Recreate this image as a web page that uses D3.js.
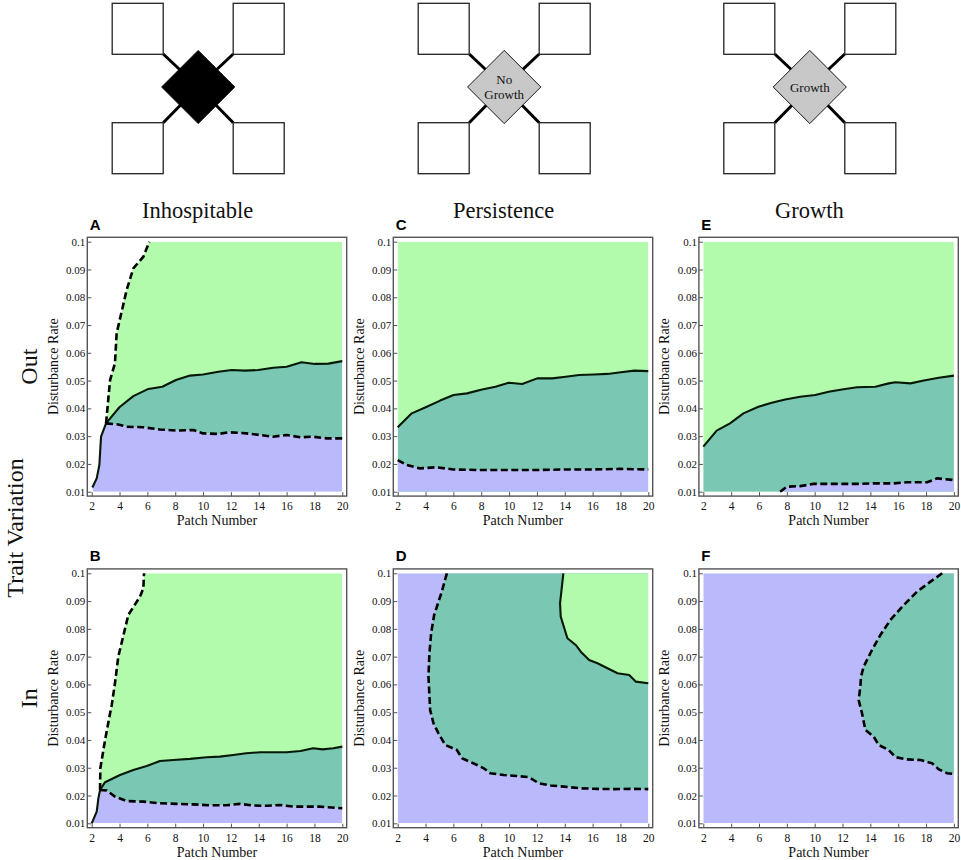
<!DOCTYPE html>
<html><head><meta charset="utf-8">
<script src="https://cdn.jsdelivr.net/npm/d3@7"></script>
<style>body{margin:0;background:#fff}svg{display:block}</style>
</head><body>
<svg id="chart" width="961" height="860"></svg>
<script>
// ---------- data ----------
const columnTitles = ["Inhospitable", "Persistence", "Growth"];
const rowTitles = ["Out", "In"];
const sideTitle = "Trait Variation";
const panelLetters = [["A", "C", "E"], ["B", "D", "F"]];
const diamondLabels = [[], ["No", "Growth"], ["Growth"]];
const patchTicks = [2, 4, 6, 8, 10, 12, 14, 16, 18, 20];
const rateTicks = [0.01, 0.02, 0.03, 0.04, 0.05, 0.06, 0.07, 0.08, 0.09, 0.1];
const rateTickLabels = ["0.01", "0.02", "0.03", "0.04", "0.05", "0.06", "0.07", "0.08", "0.09", "0.1"];
const xLabel = "Patch Number", yLabel = "Disturbance Rate";
const patchDomain = [2, 20], rateDomain = [0.01, 0.1];

// Panel A (Inhospitable, Out)
const A_steep = [[2.05,0.0115],[2.36,0.0148],[2.55,0.0196],[2.67,0.0298],[3.03,0.0346]];
const A_upper = [[3.03,0.0346],[3.99,0.0404],[4.99,0.0444],[6.07,0.047],[7.07,0.0478],[8.05,0.0502],[9.06,0.0518],[10.0,0.0522],[11.1,0.0532],[12.05,0.0538],[13.0,0.0536],[13.96,0.0538],[15.04,0.0546],[16.0,0.055],[17.07,0.0566],[18.03,0.056],[19.0,0.0561],[20,0.057]];
const A_lower = [[3.03,0.0346],[3.9,0.0342],[4.5,0.0334],[5.7,0.0332],[6.9,0.0324],[8.1,0.032],[9.3,0.0322],[10.0,0.031],[11.1,0.0308],[11.9,0.0314],[13.1,0.031],[14.1,0.0304],[15.0,0.0298],[16.0,0.0304],[17.0,0.0296],[17.9,0.0298],[18.9,0.0292],[20,0.0292]];
const A_left = [[3.03,0.0346],[3.32,0.0502],[3.67,0.0562],[3.79,0.067],[4.51,0.0826],[4.99,0.0904],[5.71,0.0946],[6.14,0.1]];

// Panel B (Inhospitable, In)
const B_steep = [[2.0,0.01],[2.36,0.0142],[2.48,0.019],[2.6,0.022]];
const B_upper = [[2.6,0.022],[2.96,0.0248],[4.03,0.0274],[4.99,0.0292],[5.95,0.0306],[6.9,0.0324],[7.86,0.0328],[9.06,0.0332],[10.26,0.0338],[11.2,0.034],[12.17,0.0346],[13.1,0.0352],[14.1,0.0356],[15.05,0.0356],[16.0,0.0356],[17.0,0.036],[17.9,0.037],[18.6,0.0366],[19.35,0.037],[20,0.0376]];
const B_lower = [[2.6,0.022],[3.08,0.0218],[3.67,0.0196],[4.51,0.018],[5.71,0.0178],[6.9,0.0172],[8.1,0.017],[9.3,0.0168],[10.5,0.0165],[11.7,0.0165],[12.65,0.017],[13.6,0.0164],[14.57,0.0163],[15.5,0.0166],[16.5,0.016],[17.45,0.016],[18.4,0.016],[20,0.0154]];
const B_left = [[2.6,0.022],[2.62,0.0298],[2.96,0.04],[3.32,0.0496],[3.44,0.0526],[3.67,0.0604],[3.91,0.07],[4.63,0.085],[5.47,0.0916],[5.71,0.0946],[5.76,0.1]];

// Panel C (Persistence, Out)
const C_upper = [[2,0.0332],[3.01,0.0382],[4.09,0.0406],[5.05,0.0428],[6.01,0.0448],[6.98,0.0454],[8.06,0.0468],[9.02,0.0478],[9.98,0.0492],[10.94,0.0488],[12.02,0.0508],[13.1,0.0508],[14.07,0.0514],[15.03,0.052],[16.1,0.0522],[17.07,0.0524],[18.03,0.053],[18.99,0.0536],[20,0.0534]];
const C_lower = [[2,0.0214],[2.65,0.0196],[3.6,0.0184],[4.8,0.0188],[6.0,0.018],[7.9,0.0178],[10,0.0178],[12,0.0178],[14,0.018],[16,0.018],[18,0.0182],[20,0.018]];

// Panel D (Persistence, In)
const D_dashed = [[5.53,0.1],[5.17,0.0934],[4.62,0.085],[4.4,0.0784],[4.28,0.0712],[4.21,0.0628],[4.33,0.0508],[4.57,0.046],[4.93,0.0424],[5.41,0.0382],[6.25,0.0364],[6.62,0.0334],[7.7,0.031],[8.18,0.0298],[8.66,0.028],[9.62,0.0274],[10.58,0.027],[11.42,0.0266],[12.14,0.0244],[12.99,0.0236],[13.95,0.0232],[15.15,0.0226],[16.35,0.0224],[17.55,0.0223],[18.75,0.0224],[20,0.0223]];
const D_solid = [[13.9,0.1],[13.66,0.0892],[13.71,0.0844],[14.19,0.0766],[14.79,0.0742],[15.15,0.0718],[15.75,0.0688],[16.35,0.0676],[17.07,0.0658],[17.79,0.064],[18.63,0.0634],[19.11,0.061],[20,0.0604]];

// Panel E (Growth, Out)
const E_upper = [[2,0.0262],[2.96,0.032],[3.92,0.0346],[4.88,0.0382],[5.96,0.0406],[6.92,0.042],[7.88,0.0432],[8.96,0.0442],[10.04,0.0448],[11.0,0.046],[11.96,0.0468],[13.04,0.0476],[14.36,0.0478],[15.32,0.049],[15.8,0.0494],[16.88,0.049],[17.84,0.05],[18.92,0.051],[20,0.0518]];
const E_lower = [[7.52,0.01],[8.0,0.0118],[8.96,0.012],[9.92,0.0128],[11.0,0.0128],[13.04,0.0128],[14.24,0.013],[15.68,0.013],[16.64,0.0134],[18.08,0.0134],[18.8,0.0148],[20,0.0142]];

// Panel F (Growth, In)
const F_dashed = [[19.16,0.1],[18.32,0.097],[17.36,0.0934],[16.4,0.0886],[15.44,0.0832],[14.72,0.0778],[14.12,0.0724],[13.52,0.0664],[13.33,0.0628],[13.28,0.0592],[13.16,0.0544],[13.4,0.0496],[13.64,0.0436],[14.24,0.0412],[14.6,0.0382],[15.32,0.0364],[15.8,0.0338],[16.64,0.033],[17.6,0.0328],[18.44,0.0316],[18.92,0.0294],[19.52,0.028],[20,0.0278]];

// ---------- styles / layout ----------
const GREEN = "#b3fbac", TEAL = "#7ac8b3", LAV = "#b9b9fb";
const colX0 = [91.7, 397.7, 703.3], rowY0 = [241.7, 573.3];
const plotW = 250.6, plotH = 250, pad = 4.4;
const serif = "'Liberation Serif','Times New Roman',serif";
const sans = "'Liberation Sans',Arial,sans-serif";

const rev = a => a.slice().reverse();
const X0 = patchDomain[0], X1 = patchDomain[1], Y0 = rateDomain[0], Y1 = rateDomain[1];
const full = [[X0,Y0],[X1,Y0],[X1,Y1],[X0,Y1]];

const panels = [
  { col:0,row:0,
    regions:[
      [LAV, A_steep.concat(A_lower, [[X1,Y0],[2.1,Y0]])],
      [TEAL, A_upper.concat(rev(A_lower))],
      [GREEN, A_left.concat([[X1,Y1]], rev(A_upper))]],
    solid:[A_steep.concat(A_upper.slice(1))], dashed:[A_left, A_lower] },
  { col:0,row:1,
    regions:[
      [LAV, B_steep.concat(B_lower, [[X1,Y0]])],
      [TEAL, B_upper.concat(rev(B_lower))],
      [GREEN, B_left.concat([[X1,Y1]], rev(B_upper))]],
    solid:[B_steep.concat(B_upper.slice(1))], dashed:[B_left, B_lower] },
  { col:1,row:0,
    regions:[
      [GREEN, full],
      [TEAL, [[X0,Y0]].concat(C_upper, [[X1,Y0]])],
      [LAV, [[X0,Y0]].concat(C_lower, [[X1,Y0]])]],
    solid:[C_upper], dashed:[C_lower] },
  { col:1,row:1,
    regions:[
      [LAV, full],
      [TEAL, D_dashed.concat([[X1,Y1]])],
      [GREEN, D_solid.concat([[X1,Y1]])]],
    solid:[D_solid], dashed:[D_dashed] },
  { col:2,row:0,
    regions:[
      [GREEN, full],
      [TEAL, [[X0,Y0]].concat(E_upper, [[X1,Y0]])],
      [LAV, E_lower.concat([[X1,Y0]])]],
    solid:[E_upper], dashed:[E_lower] },
  { col:2,row:1,
    regions:[
      [LAV, full],
      [TEAL, F_dashed.concat([[X1,Y1]])]],
    solid:[], dashed:[F_dashed] }
];

const svg = d3.select("#chart");

// ---------- top diagrams ----------
const diagCx = colX0.map(x => x + 106.5);
diagCx.forEach((cx, i) => {
  const g = svg.append("g");
  const cy = 87, sq = 51;
  const corners = [[cx-35, 54],[cx+35, 54],[cx-35, 122.7],[cx+35, 122.7]];
  corners.forEach(c => g.append("line").attr("x1", c[0]).attr("y1", c[1]).attr("x2", cx).attr("y2", cy)
    .attr("stroke", "#000").attr("stroke-width", 3));
  const rects = [[cx-86, 3.3],[cx+35, 3.3],[cx-86, 122.7],[cx+35, 122.7]];
  rects.forEach(r => g.append("rect").attr("x", r[0]).attr("y", r[1]).attr("width", sq).attr("height", sq)
    .attr("fill", "#fff").attr("stroke", "#222").attr("stroke-width", 1.3));
  const h = 36.6;
  g.append("path").attr("d", `M${cx},${cy-h}L${cx+h},${cy}L${cx},${cy+h}L${cx-h},${cy}Z`)
    .attr("fill", i === 0 ? "#000" : "#c8c8c8").attr("stroke", "#000").attr("stroke-width", 0.9);
  const labs = diamondLabels[i];
  labs.forEach((t, k) => g.append("text").attr("x", cx).attr("y", cy + 4.5 + (k - (labs.length-1)/2) * 15)
    .attr("text-anchor", "middle").attr("font-family", serif).attr("font-size", 13).attr("fill", "#111").text(t));
});

// ---------- column / row titles ----------
columnTitles.forEach((t, i) => svg.append("text").attr("x", colX0[i] + 106).attr("y", 217.5)
  .attr("text-anchor", "middle").attr("font-family", serif).attr("font-size", 22.5).attr("fill", "#111").text(t));
rowTitles.forEach((t, j) => {
  const cy = rowY0[j] + plotH/2;
  svg.append("text").attr("transform", `translate(36.5,${cy}) rotate(-90)`).attr("text-anchor", "middle")
    .attr("font-family", serif).attr("font-size", 24).attr("fill", "#111").text(t);
});
svg.append("text").attr("transform", `translate(22.5,528) rotate(-90)`).attr("text-anchor", "middle")
  .attr("font-family", serif).attr("font-size", 24).attr("fill", "#111").text(sideTitle);

// ---------- panels ----------
panels.forEach((p, pi) => {
  const x0 = colX0[p.col], y0 = rowY0[p.row];
  const x = d3.scaleLinear().domain(patchDomain).range([x0, x0 + plotW]);
  const y = d3.scaleLinear().domain(rateDomain).range([y0 + plotH, y0]);
  const g = svg.append("g");
  const clipId = "clip" + pi;
  g.append("clipPath").attr("id", clipId).append("rect")
    .attr("x", x0).attr("y", y0).attr("width", plotW).attr("height", plotH);
  const line = d3.line().x(d => x(d[0])).y(d => y(d[1]));
  const area = g.append("g").attr("clip-path", `url(#${clipId})`);
  p.regions.forEach(r => area.append("path").attr("d", line(r[1]) + "Z").attr("fill", r[0]).attr("stroke", "none"));
  const lines = g.append("g");
  p.solid.forEach(s => lines.append("path").attr("d", line(s)).attr("fill", "none")
    .attr("stroke", "#061806").attr("stroke-width", 2.1).attr("stroke-linejoin", "round"));
  p.dashed.forEach(s => lines.append("path").attr("d", line(s)).attr("fill", "none")
    .attr("stroke", "#000").attr("stroke-width", 2.6).attr("stroke-dasharray", "7,3.5"));

  // frame
  const fx0 = x0 - pad, fx1 = x0 + plotW + pad, fy0 = y0 - pad, fy1 = y0 + plotH + pad;
  g.append("rect").attr("x", fx0).attr("y", fy0).attr("width", fx1 - fx0).attr("height", fy1 - fy0)
    .attr("fill", "none").attr("stroke", "#555").attr("stroke-width", 1.4);

  // axes via d3 axis (inward ticks)
  const xAx = d3.axisBottom(x).tickValues(patchTicks).tickSize(-4).tickPadding(6).tickFormat(d3.format("d"));
  const gx = g.append("g").attr("transform", `translate(0,${fy1})`).call(xAx);
  gx.select(".domain").remove();
  gx.selectAll("line").attr("stroke", "#555").attr("stroke-width", 1);
  gx.selectAll("text").attr("font-family", serif).attr("font-size", 11.5).attr("fill", "#111");

  const yAx = d3.axisLeft(y).tickValues(rateTicks).tickSize(-4).tickPadding(2)
    .tickFormat((d, i) => rateTickLabels[i]);
  const gy = g.append("g").attr("transform", `translate(${fx0},0)`).call(yAx);
  gy.select(".domain").remove();
  gy.selectAll("line").attr("stroke", "#555").attr("stroke-width", 1);
  gy.selectAll("text").attr("font-family", serif).attr("font-size", 11).attr("fill", "#111");

  g.append("text").attr("x", x0 + plotW/2).attr("y", y0 + plotH + 33.5).attr("text-anchor", "middle")
    .attr("font-family", serif).attr("font-size", 14).attr("fill", "#111").text(xLabel);
  g.append("text").attr("transform", `translate(${x0 - 34},${y0 + plotH/2}) rotate(-90)`).attr("text-anchor", "middle")
    .attr("font-family", serif).attr("font-size", 14).attr("fill", "#111").text(yLabel);
  g.append("text").attr("x", x0 - 2).attr("y", y0 - 12).attr("font-family", sans).attr("font-weight", "bold")
    .attr("font-size", 15).attr("fill", "#000").text(panelLetters[p.row][p.col]);
});
</script>
</body></html>
